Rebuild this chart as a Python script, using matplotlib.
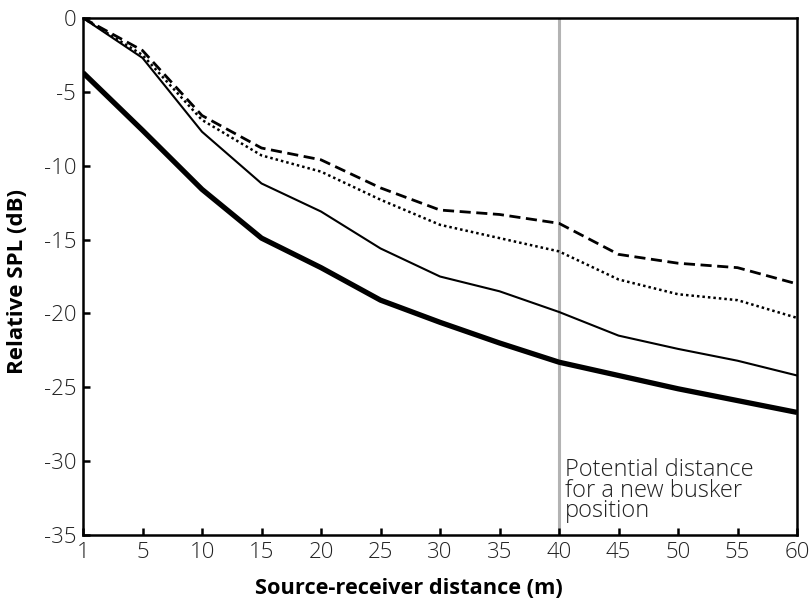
import matplotlib
matplotlib.use("Agg")
import matplotlib.pyplot as plt

# Source-receiver distances (m), plotted as equally spaced categories
distances = [1, 5, 10, 15, 20, 25, 30, 35, 40, 45, 50, 55, 60]

# Relative SPL (dB)
spl_thick = [-3.7, -7.6, -11.6, -14.9, -16.9, -19.1, -20.6, -22.0, -23.3, -24.2, -25.1, -25.9, -26.7]
spl_thin = [0.0, -2.7, -7.7, -11.2, -13.1, -15.6, -17.5, -18.5, -19.9, -21.5, -22.4, -23.2, -24.2]
spl_dashed = [0.0, -2.2, -6.6, -8.8, -9.6, -11.5, -13.0, -13.3, -13.9, -16.0, -16.6, -16.9, -18.0]
spl_dotted = [0.0, -2.5, -6.9, -9.3, -10.4, -12.3, -14.0, -14.9, -15.8, -17.7, -18.7, -19.1, -20.3]

busker_distance = 40
note = "Potential distance\nfor a new busker\nposition"

plt.rcParams["font.family"] = ["Open Sans", "DejaVu Sans"]
plt.rcParams["axes.unicode_minus"] = False

fig = plt.figure(figsize=(8.09, 6.07), dpi=100)
ax = fig.add_axes([0.1026, 0.1186, 0.8826, 0.8517])

pos = list(range(len(distances)))
ax.axvline(distances.index(busker_distance), color="#b3b3b3", lw=2.2, zorder=1)

ax.plot(pos, spl_thick, color="black", lw=3.8, solid_capstyle="butt", zorder=3)
ax.plot(pos, spl_thin, color="black", lw=1.5, zorder=3)
ax.plot(pos, spl_dashed, color="black", lw=2.0, dashes=(4, 2), zorder=3)
ax.plot(pos, spl_dotted, color="black", lw=1.8, dashes=(1, 1.2), zorder=3)

ax.set_xlim(0, len(distances) - 1)
ax.set_ylim(-35, 0)
ax.set_xticks(pos)
ax.set_xticklabels([str(d) for d in distances])
ax.set_yticks(range(-35, 1, 5))

ax.tick_params(direction="in", length=5, width=1.8, labelsize=16, pad=5)
for lab in ax.get_xticklabels() + ax.get_yticklabels():
    lab.set_fontweight("light")
    lab.set_color("#222222")
for sp in ax.spines.values():
    sp.set_linewidth(1.8)

ax.set_xlabel("Source-receiver distance (m)", fontsize=15.7, fontweight="bold")
ax.xaxis.set_label_coords(0.457, -0.084)
ax.set_ylabel("Relative SPL (dB)", fontsize=16, fontweight="bold")
ax.yaxis.set_label_coords(-0.077, 0.49)

ax.text(distances.index(busker_distance) + 0.1, -29.8, note, fontsize=17,
        fontweight="light", color="#222222", va="top", ha="left", linespacing=0.8)

fig.savefig("out.png", dpi=100)
